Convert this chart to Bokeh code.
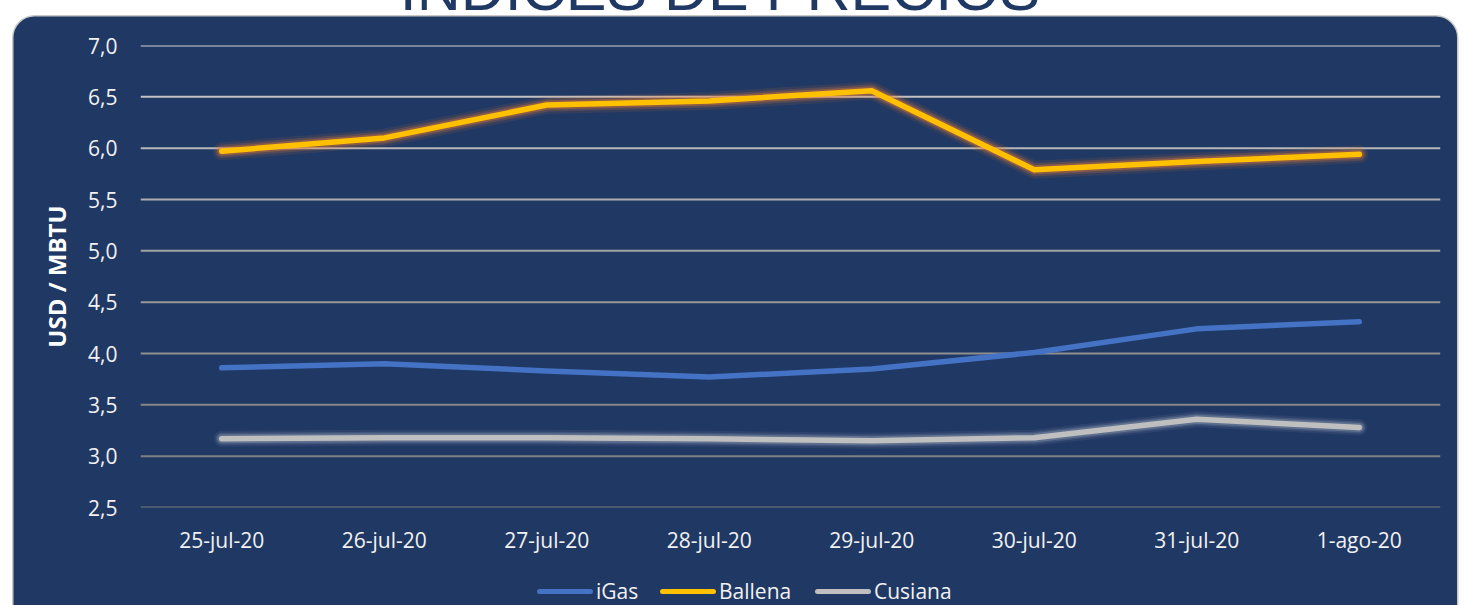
from bokeh.plotting import figure
from bokeh.models import (FactorRange, Range1d, FixedTicker, CustomJSTickFormatter, Span)
from bokeh.embed import file_html
from bokeh.resources import INLINE

# ---- data ----
dates = ["25-jul-20", "26-jul-20", "27-jul-20", "28-jul-20",
         "29-jul-20", "30-jul-20", "31-jul-20", "1-ago-20"]
igas = [3.86, 3.90, 3.83, 3.77, 3.85, 4.01, 4.24, 4.31]
ballena = [5.97, 6.10, 6.42, 6.46, 6.56, 5.79, 5.87, 5.94]
cusiana = [3.17, 3.18, 3.18, 3.17, 3.15, 3.18, 3.36, 3.28]
series_names = ["iGas", "Ballena", "Cusiana"]
y_ticks = [2.5, 3.0, 3.5, 4.0, 4.5, 5.0, 5.5, 6.0, 6.5, 7.0]
title_text = "INDICES DE PRECIOS"
y_label = "USD / MBTU"

# ---- style ----
NAVY = "#203864"
TXT = "#F2F2F2"
FONT = "Open Sans"
series_colors = ["#4472C4", "#FFC000", "#BFBFBF"]
legend_x = [537, 660, 815]
grid_colors = ["#7a7a7a", "#808080", "#878787", "#8f8f8f", "#989898",
               "#a2a2a2", "#adadad", "#b8b8b8", "#c3c3c3", "#cfcfcf"]

W, H = 1460, 605

panel_svg = ("data:image/svg+xml;utf8,<svg xmlns='http://www.w3.org/2000/svg' width='1460' height='605'>"
             "<rect x='12.75' y='15.75' width='1445' height='700' rx='22' ry='22' "
             "fill='%23203864' stroke='%23C8C8C8' stroke-width='1.5'/></svg>")

p = figure(width=W, height=H, x_range=FactorRange(*dates), y_range=Range1d(2.5, 7.0),
           output_backend="svg", toolbar_location=None,
           min_border_left=140, min_border_right=20, min_border_top=45, min_border_bottom=98,
           border_fill_color=None, background_fill_color=None, outline_line_color=None,
           styles={"background-image": 'url("' + panel_svg + '")',
                   "background-repeat": "no-repeat"})

p.xgrid.visible = False
p.ygrid.visible = False
for t, c in zip(y_ticks, grid_colors):
    p.add_layout(Span(location=t, dimension="width", line_color=c, line_width=2, level="underlay"))

# axes
p.yaxis.ticker = FixedTicker(ticks=y_ticks)
p.yaxis.formatter = CustomJSTickFormatter(code="return tick.toFixed(1).replace('.', ',');")
for ax in (p.xaxis[0], p.yaxis[0]):
    ax.axis_line_color = None
    ax.major_tick_line_color = None
    ax.minor_tick_line_color = None
    ax.major_tick_out = 0
    ax.major_tick_in = 0
    ax.major_label_text_font = FONT
    ax.major_label_text_font_size = "21px"
    ax.major_label_text_color = TXT
p.yaxis.major_label_standoff = 23
p.xaxis.major_label_standoff = 18
p.yaxis.axis_label = y_label
p.yaxis.axis_label_text_font = FONT
p.yaxis.axis_label_text_font_style = "bold"
p.yaxis.axis_label_text_font_size = "24px"
p.yaxis.axis_label_text_color = "white"
p.yaxis.axis_label_standoff = 12

# glow layers
for w, a in [(18, 0.10), (13, 0.2), (9, 0.35)]:
    p.line(dates, ballena, line_color="#ED7D31", line_width=w, line_alpha=a,
           line_join="round", line_cap="round")
for w, a in [(16, 0.06), (12, 0.1), (9, 0.16)]:
    p.line(dates, cusiana, line_color="#FFFFFF", line_width=w, line_alpha=a,
           line_join="round", line_cap="round")

for vals, col in zip([igas, ballena, cusiana], series_colors):
    p.line(dates, vals, line_color=col, line_width=5.5, line_join="round", line_cap="round")

# legend (HTML, placed at the bottom edge like the reference)
legend_html = ""
for name, col, x in zip(series_names, series_colors, legend_x):
    legend_html += (
        f"<div style=\"position:absolute; left:{x}px; top:589px; width:56px; height:5px; "
        f"border-radius:3px; background:{col};\"></div>"
        f"<div style=\"position:absolute; left:{x + 59}px; top:577px; font-family:'Open Sans'; "
        f"font-size:21px; line-height:28px; color:{TXT}; white-space:nowrap;\">{name}</div>"
    )

# page title (mostly cut off at the top edge, as in the reference)
TEMPLATE = (
    "{% block contents %}\n"
    "<div style=\"position:absolute; left:0; top:0; width:1440px; height:15px; "
    "overflow:hidden; z-index:10; pointer-events:none;\">"
    "<div style=\"position:absolute; left:0; top:-41px; width:1440px; text-align:center; "
    "font-family:'Liberation Sans'; font-size:61px; line-height:60px; color:#1F3864; "
    "white-space:nowrap;\">" + title_text + "</div></div>\n"
    "<div style=\"position:absolute; left:0; top:0; width:1460px; height:605px; "
    "overflow:hidden; z-index:10; pointer-events:none;\">" + legend_html + "</div>\n"
    "{{ super() }}\n"
    "{% endblock %}\n"
)

open("out.html", "w").write(file_html(p, INLINE, template=TEMPLATE))
